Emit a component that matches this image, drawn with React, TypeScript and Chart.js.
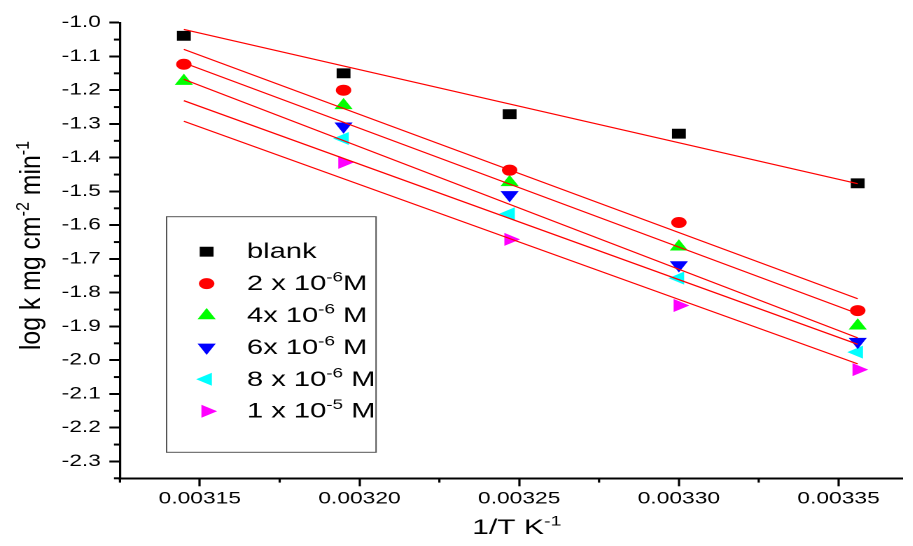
import React, { useEffect, useRef } from 'react';
import { Chart, registerables } from 'chart.js';
import { drawPoint } from 'chart.js/helpers';

Chart.register(...registerables);

// ---------- data ----------
const invT = [0.003145, 0.003195, 0.003247, 0.0033, 0.003356];

const blank = [-1.039, -1.15, -1.271, -1.329, -1.476];
const conc2e6 = [-1.123, -1.2, -1.437, -1.592, -1.853];
const conc4e6 = [-1.173, -1.245, -1.473, -1.664, -1.898];
const conc6e6 = [null, -1.307, -1.51, -1.718, -1.945];
const conc8e6 = [null, -1.343, -1.566, -1.757, -1.976];
const conc1e5 = [null, -1.414, -1.642, -1.838, -2.028];

const fitX = [0.003145, 0.003356];
const fitStart = [-1.02, -1.079, -1.119, -1.168, -1.231, -1.292];
const fitEnd = [-1.477, -1.818, -1.862, -1.934, -1.953, -2.011];

const seriesNames = ['blank', '2 x 10-6M', '4x 10-6 M', '6x 10-6 M', '8 x 10-6 M', '1 x 10-5 M'];
const legendBase = ['blank', '2 x 10', '4x 10', '6x 10', '8 x 10', '1 x 10'];
const legendSup = ['', '-6', '-6', '-6', '-6', '-5'];
const legendTail = ['', 'M', ' M', ' M', ' M', ' M'];

const xMin = 0.003125;
const xMax = 0.00337;
const xStep = 0.00005;
const yMin = -2.35;
const yMax = -1.0;
const yStep = 0.1;

const xTitleParts = [
  { t: '1/T K', sup: false },
  { t: '-1', sup: true },
];
const yTitleParts = [
  { t: 'log k mg cm', sup: false },
  { t: '-2', sup: true },
  { t: ' min', sup: false },
  { t: '-1', sup: true },
];

// ---------- styles ----------
const series = [blank, conc2e6, conc4e6, conc6e6, conc8e6, conc1e5];
const colors = ['#000000', '#ff0000', '#00ff00', '#0000ff', '#00ffff', '#ff00ff'];
const pointStyles = ['rect', 'circle', 'triangle', 'triangle', 'triangle', 'triangle'];
const rotations = [0, 0, 0, 180, 270, 90];
const radii = [7, 5.5, 7.5, 7.5, 7.5, 7.5];

const STRETCH = 1.4;
const PAGE_W = 913;
const PAGE_H = 546;
const INNER_W = PAGE_W / STRETCH;
const FONT = "Arial, 'Liberation Sans', sans-serif";

const LAYOUT = {
  yAxisWidth: 85.7,
  xAxisHeight: 67.7,
  padTop: 22.7,
  padRight: INNER_W - 903.3 / STRETCH,
  legendLeft: 119.0,
  legendTop: 216.7,
  legendRight: 268.6,
  legendBottom: 452.3,
  legendMarkerX: 147.6,
  legendTextX: 176.4,
  legendRow0: 251.7,
  legendRowStep: 31.9,
  legendBaselineOff: 6.5,
  legendFont: 20.8,
  legendSupFont: 13.5,
  xTitleY: 534,
  xTitleFont: 21.5,
  xTitleSup: 14,
  yTitleX: 28.6,
  yTitleY: 245.5,
  yTitleFont: 20,
  yTitleSup: 13,
  yTitleLengthScale: 1.24,
};

function drawRich(ctx, parts, x, y, size, supSize, supRise) {
  let total = 0;
  const widths = parts.map((p) => {
    ctx.font = `${p.sup ? supSize : size}px ${FONT}`;
    const w = ctx.measureText(p.t).width;
    total += w;
    return w;
  });
  let cx = x - total / 2;
  ctx.textAlign = 'left';
  ctx.textBaseline = 'alphabetic';
  parts.forEach((p, i) => {
    ctx.font = `${p.sup ? supSize : size}px ${FONT}`;
    ctx.fillText(p.t, cx, p.sup ? y - supRise : y);
    cx += widths[i];
  });
}

function minorValues(ticks, step, min, max) {
  const out = [];
  if (!ticks.length) return out;
  const eps = step * 1e-6;
  const first = ticks[0] - step / 2;
  if (first >= min - eps) out.push(first);
  for (let i = 0; i < ticks.length - 1; i++) out.push((ticks[i] + ticks[i + 1]) / 2);
  const last = ticks[ticks.length - 1] + step / 2;
  if (last <= max + eps) out.push(last);
  return out;
}

const decorPlugin = {
  id: 'decor',
  afterDraw(chart) {
    const ctx = chart.ctx;
    const xs = chart.scales.x;
    const ys = chart.scales.y;
    ctx.save();
    ctx.strokeStyle = '#000';
    // minor ticks, y
    ctx.lineWidth = 2;
    minorValues(ys.ticks.map((t) => t.value), yStep, ys.min, ys.max).forEach((v) => {
      const py = ys.getPixelForValue(v);
      ctx.beginPath();
      ctx.moveTo(ys.right - 4.3, py);
      ctx.lineTo(ys.right, py);
      ctx.stroke();
    });
    // minor ticks, x
    ctx.lineWidth = 1.6;
    minorValues(xs.ticks.map((t) => t.value), xStep, xs.min, xs.max).forEach((v) => {
      const px = xs.getPixelForValue(v);
      ctx.beginPath();
      ctx.moveTo(px, xs.top);
      ctx.lineTo(px, xs.top + 4.3);
      ctx.stroke();
    });

    // titles
    ctx.fillStyle = '#000';
    drawRich(
      ctx,
      xTitleParts,
      (chart.chartArea.left + chart.chartArea.right) / 2 + 4,
      LAYOUT.xTitleY,
      LAYOUT.xTitleFont,
      LAYOUT.xTitleSup,
      8.5
    );
    ctx.save();
    ctx.translate(LAYOUT.yTitleX, LAYOUT.yTitleY);
    ctx.rotate(-Math.PI / 2);
    ctx.scale(LAYOUT.yTitleLengthScale, 1);
    drawRich(ctx, yTitleParts, 0, 0, LAYOUT.yTitleFont, LAYOUT.yTitleSup, 8);
    ctx.restore();

    // legend box
    ctx.lineWidth = 1;
    ctx.strokeStyle = '#555';
    ctx.strokeRect(
      LAYOUT.legendLeft,
      LAYOUT.legendTop,
      LAYOUT.legendRight - LAYOUT.legendLeft,
      LAYOUT.legendBottom - LAYOUT.legendTop
    );
    legendBase.forEach((base, i) => {
      const ry = LAYOUT.legendRow0 + i * LAYOUT.legendRowStep;
      ctx.fillStyle = colors[i];
      drawPoint(
        ctx,
        { pointStyle: pointStyles[i], rotation: rotations[i], radius: radii[i], borderWidth: 0 },
        LAYOUT.legendMarkerX,
        ry
      );
      ctx.fillStyle = '#000';
      ctx.textAlign = 'left';
      ctx.textBaseline = 'alphabetic';
      const by = ry + LAYOUT.legendBaselineOff;
      let cx = LAYOUT.legendTextX;
      ctx.font = `${LAYOUT.legendFont}px ${FONT}`;
      ctx.fillText(base, cx, by);
      cx += ctx.measureText(base).width;
      if (legendSup[i]) {
        ctx.font = `${LAYOUT.legendSupFont}px ${FONT}`;
        ctx.fillText(legendSup[i], cx, by - 8.5);
        cx += ctx.measureText(legendSup[i]).width;
      }
      if (legendTail[i]) {
        ctx.font = `${LAYOUT.legendFont}px ${FONT}`;
        ctx.fillText(legendTail[i], cx, by);
      }
    });
    ctx.restore();
  },
};

export default function App() {
  const ref = useRef<HTMLCanvasElement>(null);

  useEffect(() => {
    const fitSets = fitStart.map((s, i) => ({
      label: `fit ${i}`,
      data: [
        { x: fitX[0], y: s },
        { x: fitX[1], y: fitEnd[i] },
      ],
      showLine: true,
      borderColor: '#ff0000',
      borderWidth: 1.2,
      pointRadius: 0,
      pointHoverRadius: 0,
      fill: false,
      order: 0,
    }));
    const pointSets = series.map((vals, i) => ({
      label: seriesNames[i],
      data: invT
        .map((x, j) => ({ x, y: vals[j] }))
        .filter((p) => p.y !== null),
      showLine: false,
      pointStyle: pointStyles[i],
      pointRotation: rotations[i],
      pointRadius: radii[i],
      pointBackgroundColor: colors[i],
      pointBorderColor: colors[i],
      pointBorderWidth: 0,
      backgroundColor: colors[i],
      borderColor: colors[i],
      order: 1,
    }));

    const chart = new Chart(ref.current as HTMLCanvasElement, {
      type: 'scatter',
      data: { datasets: [...fitSets, ...pointSets] as any },
      options: {
        animation: false,
        responsive: true,
        maintainAspectRatio: false,
        devicePixelRatio: 2,
        events: [],
        layout: {
          padding: { top: LAYOUT.padTop, right: LAYOUT.padRight, bottom: 0, left: 0 },
        },
        plugins: {
          legend: { display: false },
          tooltip: { enabled: false },
          title: { display: false },
        },
        scales: {
          x: {
            type: 'linear',
            position: 'bottom',
            min: xMin,
            max: xMax,
            afterFit: (scale: any) => {
              scale.height = LAYOUT.xAxisHeight;
            },
            ticks: {
              stepSize: xStep,
              includeBounds: false,
              autoSkip: false,
              maxRotation: 0,
              padding: 3,
              color: '#000',
              font: { family: FONT, size: 16.3 },
              callback: (v: any) => Number(v).toFixed(5),
            },
            grid: {
              drawOnChartArea: false,
              drawTicks: true,
              tickLength: 8,
              tickColor: '#000',
              tickWidth: 1.6,
            },
            border: { display: true, color: '#000', width: 2 },
          },
          y: {
            type: 'linear',
            position: 'left',
            min: yMin,
            max: yMax,
            afterFit: (scale: any) => {
              scale.width = LAYOUT.yAxisWidth;
            },
            ticks: {
              stepSize: yStep,
              includeBounds: false,
              autoSkip: false,
              padding: 6,
              color: '#000',
              font: { family: FONT, size: 16.3 },
              callback: (v: any) => Number(v).toFixed(1),
            },
            grid: {
              drawOnChartArea: false,
              drawTicks: true,
              tickLength: 7.6,
              tickColor: '#000',
              tickWidth: 2,
            },
            border: { display: true, color: '#000', width: 1.6 },
          },
        },
      },
      plugins: [decorPlugin],
    } as any);
    return () => chart.destroy();
  }, []);

  return (
    <div
      style={{
        position: 'fixed',
        left: 0,
        top: 0,
        width: PAGE_W,
        height: PAGE_H,
        overflow: 'hidden',
        background: '#ffffff',
      }}
    >
      <div
        style={{
          position: 'absolute',
          left: 0,
          top: 0,
          width: INNER_W,
          height: PAGE_H,
          transform: `scaleX(${STRETCH})`,
          transformOrigin: '0 0',
        }}
      >
        <canvas ref={ref} />
      </div>
    </div>
  );
}
